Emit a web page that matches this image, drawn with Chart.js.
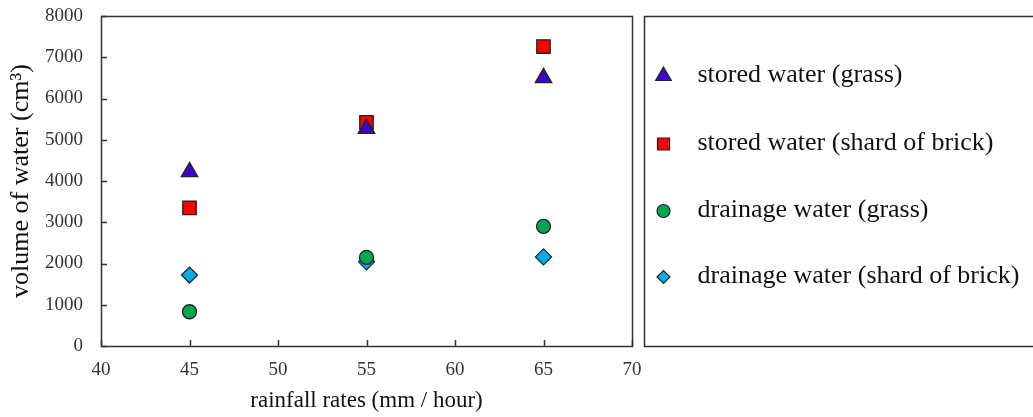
<!DOCTYPE html>
<html>
<head>
<meta charset="utf-8">
<script src="https://cdn.jsdelivr.net/npm/chart.js@4.4.0/dist/chart.umd.min.js"></script>
<style>
  html, body { margin: 0; padding: 0; background: #fff; }
  #wrap { width: 1033px; height: 417px; }
</style>
</head>
<body>
<div id="wrap"><canvas id="chart"></canvas></div>
<script>
// rainfall rate (mm / hour) on the x axis
const rainfall = [45, 55, 65];

// volumes (cm3)
const storedGrass = [4220, 5270, 6500];
const storedBrick = [3350, 5420, 7260];
const drainGrass = [830, 2150, 2900];
const drainBrick = [1720, 2040, 2160];

const seriesNames = [
    'stored water (grass)',
    'stored water (shard of brick)',
    'drainage water (grass)',
    'drainage water (shard of brick)'
];

const xMin = 40, xMax = 70, xStep = 5;
const yMin = 0, yMax = 8000, yStep = 1000;

const serif = "'Liberation Serif', 'Times New Roman', serif";
const ink = '#222';

function points(values) {
    return rainfall.map((x, i) => ({ x: x, y: values[i] }));
}

const datasets = [
    { label: seriesNames[0], data: points(storedGrass), pointStyle: 'triangle', pointRadius: 9.5, backgroundColor: '#3d06c8', legendRadius: 9 },
    { label: seriesNames[1], data: points(storedBrick), pointStyle: 'rect', pointRadius: 9.5, backgroundColor: '#ff0000', legendRadius: 8.5 },
    { label: seriesNames[2], data: points(drainGrass), pointStyle: 'circle', pointRadius: 7, backgroundColor: '#00a651', legendRadius: 6.5 },
    { label: seriesNames[3], data: points(drainBrick), pointStyle: 'rectRot', pointRadius: 8, backgroundColor: '#00aeef', legendRadius: 6.5 }
].map(ds => ({
    ...ds,
    borderColor: ink,
    borderWidth: 1.3,
    pointBorderWidth: 1.3,
    pointHoverRadius: ds.pointRadius
}));

// inward tick marks plus the frame round the plot area
const frameAndTicks = {
    id: 'frameAndTicks',
    afterDatasetsDraw(chart) {
        const ctx = chart.ctx;
        const a = chart.chartArea;
        const xs = chart.scales.x, ys = chart.scales.y;
        ctx.save();
        ctx.strokeStyle = '#333';
        ctx.lineWidth = 1.5;
        ctx.beginPath();
        xs.ticks.forEach(t => {
            const px = Math.round(xs.getPixelForValue(t.value)) + 0.5;
            ctx.moveTo(px, a.bottom);
            ctx.lineTo(px, a.bottom - 6);
        });
        ys.ticks.forEach(t => {
            const py = Math.round(ys.getPixelForValue(t.value)) + 0.5;
            ctx.moveTo(a.left, py);
            ctx.lineTo(a.left + 6, py);
        });
        ctx.stroke();
        ctx.strokeRect(a.left + 0.5, a.top + 0.5, a.right - a.left, a.bottom - a.top);
        ctx.restore();
    }
};

// legend in its own framed box to the right of the plot
const boxedLegend = {
    id: 'boxedLegend',
    afterDraw(chart) {
        const ctx = chart.ctx;
        const a = chart.chartArea;
        const left = a.right + 12.5;
        const rows = [76, 144, 211, 277];
        ctx.save();
        ctx.strokeStyle = '#333';
        ctx.lineWidth = 1.5;
        ctx.strokeRect(left, a.top + 0.5, chart.width - left + 5, a.bottom - a.top);
        chart.data.datasets.forEach((ds, i) => {
            ctx.fillStyle = ds.backgroundColor;
            ctx.strokeStyle = ink;
            ctx.lineWidth = 1.2;
            Chart.helpers.drawPoint(ctx, {
                pointStyle: ds.pointStyle,
                radius: ds.legendRadius,
                rotation: 0,
                borderWidth: 1.2
            }, left + 19, rows[i]);
            ctx.fillStyle = '#111';
            ctx.font = '26px ' + serif;
            ctx.textBaseline = 'middle';
            ctx.textAlign = 'left';
            ctx.fillText(ds.label, left + 53, rows[i] - 1);
        });
        ctx.restore();
    }
};

new Chart(document.getElementById('chart'), {
    type: 'scatter',
    data: { datasets: datasets },
    options: {
        responsive: true,
        maintainAspectRatio: false,
        animation: false,
        layout: { padding: { left: 0, top: 16, right: 401, bottom: 0 } },
        plugins: {
            legend: { display: false },
            tooltip: { enabled: false }
        },
        scales: {
            x: {
                type: 'linear',
                min: xMin,
                max: xMax,
                grid: { display: false },
                border: { display: false },
                ticks: { stepSize: xStep, color: '#333', padding: 5, font: { family: serif, size: 19 }, callback: v => String(v) },
                title: { display: true, text: 'rainfall rates (mm / hour)', color: '#111', font: { family: serif, size: 23 }, padding: { top: 0, bottom: 2 } },
                afterFit(scale) {
                    scale.height = 71;
                    scale.paddingLeft = 0;
                    scale.paddingRight = 0;
                    scale.paddingTop = 0;
                }
            },
            y: {
                type: 'linear',
                min: yMin,
                max: yMax,
                grid: { display: false },
                border: { display: false },
                ticks: { stepSize: yStep, color: '#333', padding: 10, font: { family: serif, size: 19 }, callback: v => String(v) },
                title: { display: true, text: 'volume of water (cm³)', color: '#111', font: { family: serif, size: 26 }, padding: { top: 6, bottom: 0 } },
                afterFit(scale) {
                    scale.width = 101;
                    scale.paddingTop = 0;
                    scale.paddingBottom = 0;
                }
            }
        }
    },
    plugins: [frameAndTicks, boxedLegend]
});
</script>
</body>
</html>
